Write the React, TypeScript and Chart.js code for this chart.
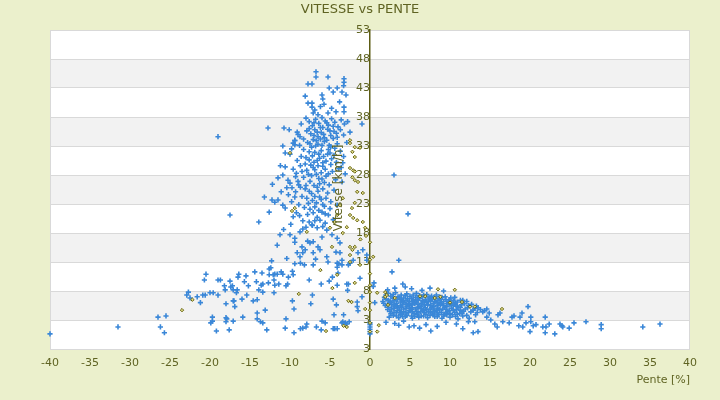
import React, { useEffect, useRef } from 'react';
import { Chart, registerables } from 'chart.js';

Chart.register(...registerables);

// x = pente [%], y = vitesse [km/h]
const xTicks = [-40, -35, -30, -25, -20, -15, -10, -5, 0, 5, 10, 15, 20, 25, 30, 35, 40];
const yTickLabels = ['3', '3', '8', '13', '18', '23', '28', '33', '38', '43', '48', '53'];

// blue "+" series — steep downhill, fast
const blueDownhillFast: number[][] = [
  [-6.75, 45.8], [-6.75, 44.9], [-5.25, 44.9], [-7.75, 43.7], [-7.25, 43.7], [-5.1, 43], [-4.6, 42.3],
  [-3.25, 44.6], [-3.25, 44], [-3.3, 43.4], [-4.1, 43], [-3.5, 42.3], [-3, 41.8], [-8.1, 41.6],
  [-6, 41.8], [-5.9, 41.1], [-5.75, 40.2], [-7.75, 40.4], [-7.25, 40.4], [-7.25, 39.7], [-3.25, 39.7],
  [-3.25, 38.9], [-4.25, 38.9], [-6.9, 39.2], [-7.1, 38.7], [-5.25, 38.7], [-6.2, 39.8], [-6.5, 38.4],
  [-4.8, 39.5], [-3.8, 40.6],
  [-12.75, 36.1], [-10.75, 36.1], [-10.1, 35.8], [-19, 34.6], [-8.6, 36.8], [-1, 36.8], [-9, 35],
  [-8.75, 34.6], [-9.4, 34], [-9.1, 35.4], [-8, 37.8], [-7.6, 37.2], [-7.2, 36.5], [-6.8, 37.6],
  [-6.4, 36.9], [-6, 37.9], [-5.6, 37.3], [-5.2, 36.6], [-4.8, 37.7], [-4.4, 37.1], [-4, 36.3],
  [-3.6, 37.5], [-3.2, 36.8], [-2.8, 37.2], [-7.9, 35.6], [-7.4, 35.1], [-6.9, 35.8], [-6.5, 34.6],
  [-6.1, 35.3], [-5.7, 34.4], [-5.3, 35.9], [-4.9, 34.8], [-4.5, 35.5], [-4.1, 34.5], [-3.7, 35.8],
  [-3.3, 34.9], [-8.3, 34.2], [-7.1, 34.1], [-5.9, 36.2], [-2.5, 35.4],
  [-7, 37], [-6.2, 36.2], [-5.4, 37], [-4.6, 36.4], [-7.6, 36], [-6.6, 35.4], [-5.8, 35],
  [-5, 35.6], [-4.2, 35.2], [-7, 34.8], [-6.2, 34.2], [-5.4, 34], [-4.6, 34.3],
  [-10.6, 31.8], [-10, 31.6], [-9.4, 33.9], [-9.6, 33.5], [-9.4, 33.2], [-8.8, 33.1], [-8.3, 32.4],
  [-7.8, 33.6], [-7.3, 32.8], [-6.9, 31.9], [-6.5, 33.3], [-6.1, 32.2], [-5.7, 33.8], [-5.3, 31.6],
  [-4.9, 32.9], [-4.5, 31.4], [-4.1, 33.4], [-3.7, 32.1], [-3.3, 31.2], [-8.6, 31.2], [-7.6, 30.6],
  [-7, 30.2], [-6.3, 30.9], [-5.5, 30.4], [-4.8, 30.8], [-4.2, 30.2], [-9.1, 30.5], [-8.1, 29.9],
  [-6.7, 33.9], [-5.1, 33.1], [-3.4, 30.1], [-3.6, 29.3], [-2.9, 33.6], [-9.8, 32.5], [-10.9, 33],
  [-7.5, 33.4], [-6.8, 33], [-6, 33.1], [-5.2, 32.4], [-4.4, 32.6], [-7.6, 32], [-6.4, 31.6],
  [-5.8, 31.2], [-5, 31.8], [-7.2, 31.3], [-6.6, 30.5], [-5.9, 30.1], [-8, 31],
  [-10.6, 29.4], [-10.9, 28], [-11.5, 27.5], [-10.25, 27.1], [-10, 26.6], [-9.75, 25.8], [-9.6, 29],
  [-9.2, 28.3], [-8.7, 29.6], [-8.3, 27.6], [-7.9, 28.8], [-7.5, 26.9], [-7.1, 29.3], [-6.7, 28.1],
  [-6.3, 26.5], [-5.9, 29.5], [-5.5, 27.8], [-5.1, 26.3], [-4.7, 28.6], [-4.3, 27.2], [-3.9, 29.1],
  [-3.5, 26.8], [-3.1, 28.2], [-8.9, 26.3], [-7.3, 27.9], [-6, 27.3], [-4.9, 29.8], [-12.2, 26.4],
  [-11.2, 29.6], [3, 28],
  [-7.4, 29.7], [-6.5, 29.6], [-5.6, 29], [-6.9, 28.9], [-6.1, 28.4], [-5.2, 28.2], [-7.7, 28.1],
  [-6.4, 27.4], [-5.7, 26.7], [-7, 26.2], [-9, 26.9], [-9.3, 27.7], [-8.5, 28.6], [-8, 26.2],
];

// blue "+" series — downhill, medium speed
const blueDownhillMid: number[][] = [
  [-12.25, 23.7], [-11.9, 23.3], [-11.5, 23.7], [-10.9, 22.8], [-10.6, 22.3], [-12.6, 21.6],
  [-10.2, 24.6], [-9.8, 23.4], [-9.3, 25.1], [-8.9, 22.9], [-8.5, 24.3], [-8.1, 25.6], [-7.7, 23.1],
  [-7.3, 24.8], [-6.9, 22.5], [-6.5, 25.2], [-6.1, 23.8], [-5.7, 22.6], [-5.3, 24.9], [-4.9, 23.4],
  [-4.5, 25.4], [-4.1, 22.8], [-7.5, 22.1], [-6.3, 24.2], [-5, 22.2], [-8.7, 25.9], [-11.1, 25.1],
  [-13.2, 24.2], [-17.5, 21.1], [-13.9, 19.9], [-9.6, 20.8], [-8.75, 18.2], [-9.9, 19.5], [-9.2, 21.5],
  [-8.4, 20.1], [-7.8, 21.2], [-7.2, 19.3], [-6.6, 20.7], [-6.25, 20.2], [-5.6, 19.7], [-7.25, 19.4],
  [-6.6, 18.9], [-5.4, 18.5], [-4.75, 17.7], [-6, 21.6], [-5.2, 21.1], [-4.6, 20.3], [-8, 19],
  [-10.8, 18.6], [4.75, 21.3],
  [-6.6, 25.9], [-5.9, 25.6], [-7.6, 25.2], [-6.9, 24.3], [-5.5, 24], [-7.9, 24], [-7.2, 23.6],
  [-6.7, 23.2], [-5.9, 22.9], [-8.2, 22.4], [-6.4, 21.9], [-7.1, 21.5], [-5.6, 21.3], [-8.8, 21],
  [-6.9, 20.1], [-7.6, 19.9], [-5.9, 19.1], [-8.4, 18.7], [-9.4, 24.2], [-10.4, 25.8],
  [-11.25, 17.7], [-10, 17.7], [-9.4, 17.1], [-9.4, 16.4], [-7.5, 16.3], [-7.8, 16.6], [-7.1, 16.5],
  [-8.5, 15.6], [-8.1, 15.1], [-8.4, 14.6], [-9.1, 14.6], [-8.75, 13.9], [-7.1, 14.6], [-6.5, 15.6],
  [-6.25, 15.1], [-5.4, 13.9], [-5.25, 13], [-4.25, 14.7], [-3.75, 14.6], [-3.5, 13.3], [-6, 17.3],
  [-4.1, 17.1], [-3.75, 16.3], [-0.9, 15.1], [-0.4, 14.2], [-0.4, 13.3], [-11.6, 15.9], [-12.3, 13.2],
  [-10.4, 13.6], [-2.5, 12.8], [-2.1, 13.3], [-1.5, 14.6], [-6.8, 13.5],
];

// blue "+" series — downhill, slow
const blueDownhillSlow: number[][] = [
  [-40, 0.6], [-31.5, 1.8], [-26.5, 3.5], [-25.5, 3.7], [-26.2, 1.8], [-25.7, 0.8], [-22.7, 7.8],
  [-22.9, 7.3], [-22.5, 6.8], [-21.6, 7], [-21.2, 6], [-20.9, 7.3], [-20.6, 7.3], [-20.5, 10.9],
  [-20.7, 9.9], [-20, 7.7], [-19.6, 7.7], [-19, 9.9], [-18.7, 9.9], [-19, 7.3], [-19.7, 3.5],
  [-19.7, 2.8], [-19.9, 2.5], [-19.2, 1.1], [-18.2, 8.9], [-18.1, 8.2], [-18, 5.8], [-18, 3.4],
  [-17.9, 3.2], [-18, 2.7], [-17.6, 1.3], [-17.4, 8.7], [-17.2, 8.9], [-17.1, 8.2], [-17.5, 9.7],
  [-17.1, 6.3], [-17, 6.3], [-16.9, 5.3], [-17.1, 2.8], [-16.6, 8.2], [-16.7, 7.7], [-16.5, 10.4],
  [-16.4, 10.9], [-16, 6.6], [-15.9, 3.5], [-15.5, 10.6], [-15.7, 9.6], [-15.4, 7.3], [-15.2, 8.9],
  [-14.4, 11.3], [-14.2, 9.6], [-14.6, 6.3], [-14.1, 6.5], [-14.1, 4.2], [-14.1, 3.2], [-13.7, 2.7],
  [-13.5, 11.1], [-13.6, 9], [-13.4, 9.2], [-13.1, 4.7], [-13.4, 2.5], [-12.9, 1.3], [-13.9, 8.2],
  [-13.4, 7.8], [-12.6, 11.8], [-12.4, 12], [-12.6, 10.8], [-12.1, 10.8], [-11.9, 10.9], [-11.6, 10.9],
  [-12, 9.9], [-12.7, 9.4], [-11.9, 9], [-12, 7.7], [-11.4, 9.2], [-11.1, 11.3], [-10.9, 10.9],
  [-10.2, 10.4], [-10.5, 8.9], [-10.3, 9.2], [-9.7, 11.4], [-9.6, 10.8], [-9.7, 6.3], [-9.5, 4.9],
  [-10.5, 3.2], [-10.6, 1.6], [-9.4, 12.7], [-8.7, 12.8], [-8.2, 12.5], [-9.5, 0.8], [-8.7, 1.5],
  [-8.4, 1.6], [-7.9, 2.3], [-8, 1.8], [-7.6, 9.9], [-7.4, 5.8], [-7.1, 12.5], [-7.2, 7.3],
  [-6.7, 1.8], [-6.1, 9.2], [-6, 2.8], [-5.6, 2.5], [-6.1, 1.3], [-5.1, 9.7], [-4.7, 10.4],
  [-4.6, 6.6], [-4.5, 3.9], [-4.6, 1.5], [-4.4, 1.5], [-4.1, 1.5], [-4.1, 12.1], [-4, 11.1],
  [-4.1, 9], [-3.5, 2.5], [-2.9, 2.3], [-2.9, 9.2], [-2.7, 12.5], [-3.5, 12.5], [-3.9, 12.7],
  [-4.1, 12.8], [-2.6, 2.7], [-1.25, 10.2], [-2.7, 9.2], [-1.6, 6.1], [-1, 7], [-1.5, 4.6],
  [-1.6, 5.3], [-3.4, 2.7], [-3.1, 2.5], [-3.3, 3.9], [-4.2, 5.6], [-2.8, 8.1],
];

// blue "+" series — flat and uphill
const blueUphill: number[][] = [
  [0, 0.6], [0, 1], [0, 1.4], [0, 1.8], [0, 2.2], [0, 2.5], [0.6, 6], [0.4, 8.8], [0.5, 9.4],
  [3.6, 13.3], [2.75, 11.3], [4.1, 9.2], [4.4, 8.7], [3.1, 8.5], [2.2, 8.2], [5.2, 8.4], [7.5, 8.5],
  [6.5, 8.1], [9.2, 8],
  [2.3, 7.6], [3.2, 7.7], [4.6, 7.5], [5.8, 7.6], [7.1, 7.4], [8.3, 7.3], [9.4, 7], [10.6, 6.9],
  [2, 7.3], [2.9, 7.4], [3.9, 7.3], [5.4, 7.3], [6.2, 7.2], [7.7, 7.1], [8.7, 7], [10.1, 6.8],
  [1.8, 6.9], [2.6, 7.1], [3.5, 7], [4.2, 6.8], [5, 7.1], [5.7, 6.9], [6.5, 7], [7.3, 6.8], [8, 6.9],
  [8.8, 6.6], [9.9, 6.5], [11.3, 6.4], [12.1, 6.2],
  [2.8, 7], [3.7, 6.8], [4.4, 7.2], [5.2, 6.7], [6, 6.9], [6.7, 7.3], [7.5, 6.9], [8.2, 6.7],
  [9, 6.9], [9.8, 6.2],
  [2, 6.6], [2.9, 6.7], [3.9, 6.6], [4.7, 6.7], [5.4, 6.5], [6.2, 6.7], [6.9, 6.5], [7.7, 6.6],
  [8.5, 6.4], [9.5, 6.5], [10.4, 6.3], [11.6, 6.4],
  [2.5, 6.2], [3.4, 6.5], [4.1, 6.2], [4.9, 6.2], [5.8, 6.3], [6.6, 6.3], [7.3, 6.2], [8.1, 6.2],
  [8.9, 6.1], [9.9, 6], [10.7, 5.9],
  [1.6, 6.2], [2.3, 6.4], [3, 6.3], [3.8, 6.1], [4.5, 6.4], [5.3, 6.2], [6, 6.4], [6.8, 6.1],
  [7.6, 6.3], [8.4, 6], [9.2, 6.2], [10.1, 5.9], [10.9, 6.1], [11.8, 5.8], [12.7, 5.7],
  [1.7, 5.9], [2.6, 6], [3.3, 5.9], [4.2, 6], [4.8, 5.9], [5.6, 6], [6.4, 5.9], [7.1, 6], [7.9, 5.8],
  [8.8, 5.9], [9.6, 5.8], [10.6, 5.7], [11.4, 5.6], [12.3, 5.5], [13.3, 5.4],
  [2.2, 5.7], [3, 5.6], [3.8, 5.5], [4.5, 5.7], [5.2, 5.6], [6, 5.7], [6.8, 5.6], [7.6, 5.5],
  [8.4, 5.5], [9.2, 5.5], [10, 5.6], [10.9, 5.4],
  [1.9, 5.5], [2.7, 5.7], [3.4, 5.4], [4.1, 5.7], [4.9, 5.5], [5.6, 5.8], [6.4, 5.4], [7.2, 5.6],
  [8, 5.3], [8.8, 5.6], [9.6, 5.3], [10.4, 5.5], [11.3, 5.2], [12.2, 5.1], [13.1, 5], [13.8, 4.8],
  [2.3, 5.2], [3.1, 5.3], [3.9, 5.2], [4.6, 5.3], [5.3, 5.1], [6.1, 5.3], [6.9, 5.1], [7.7, 5.2],
  [8.5, 5], [9.3, 5.2], [10.2, 5], [11, 5.1], [11.9, 4.9], [12.9, 4.7], [14.6, 4.9],
  [2.7, 4.9], [3.5, 5.1], [4.2, 4.9], [5, 5], [5.7, 4.9], [6.4, 5], [7.1, 4.8], [7.9, 4.9],
  [8.7, 4.8], [9.5, 4.8], [10.4, 4.7], [11.3, 4.7],
  [2.2, 4.8], [3, 5], [3.7, 4.7], [4.5, 5], [5.2, 4.8], [6, 5.1], [6.7, 4.7], [7.5, 4.9], [8.3, 4.6],
  [9.1, 4.9], [9.9, 4.6], [10.8, 4.8], [11.7, 4.5], [12.6, 4.4], [14.3, 4.6],
  [2.5, 4.5], [3.4, 4.6], [4.2, 4.4], [4.9, 4.6], [5.8, 4.5], [6.6, 4.6], [7.3, 4.4], [8.1, 4.5],
  [8.9, 4.3], [9.7, 4.5], [10.6, 4.3], [11.5, 4.2], [13.4, 4.3], [14.9, 4.2],
  [3, 4.3], [3.8, 4.2], [4.5, 4.2], [5.3, 4.4], [6, 4.2], [6.8, 4.3], [7.6, 4.4], [8.4, 4.2],
  [9.3, 4], [10, 4.1], [10.9, 4],
  [2.6, 4.1], [3.3, 4.3], [4, 4], [4.8, 4.3], [5.5, 4.1], [6.3, 4.4], [7, 4], [7.8, 4.2], [8.6, 3.9],
  [9.5, 4.2], [10.3, 3.9], [11.2, 4.1], [12.1, 3.8], [13.2, 3.9],
  [2.9, 3.8], [3.8, 3.9], [4.6, 3.8], [5.2, 3.7], [5.9, 3.9], [6.7, 3.7], [7.5, 3.8], [8.4, 3.6],
  [9.2, 3.7], [10.7, 3.6], [11.6, 3.7], [3.3, 3.7], [4.1, 3.6], [5.6, 3.6], [6.4, 3.7], [7.9, 3.9],
  [9.6, 3.9],
  [2.4, 3.5], [3.6, 3.4], [4.4, 3.6], [5.3, 3.3], [6.1, 3.5], [7.2, 3.4], [8.1, 3.6], [9, 3.3],
  [10, 3.5], [11, 3.2], [12.4, 3.3],
  [2, 2.6], [3.1, 2.4], [4.2, 2.8], [5.5, 2], [6.2, 1.6], [7, 2.2], [8.4, 1.9], [9.5, 2.6],
  [10.8, 2.3], [11.6, 1.5], [12.3, 2.7], [4.9, 1.8], [7.6, 1.1], [3.6, 2.1],
  [13.5, 5.1], [14.1, 4.4], [13.1, 2.7], [13.5, 1], [12.9, 0.8], [14.6, 3.5], [15.1, 3], [15.6, 2.3],
  [15.9, 1.8], [16, 3.9], [16.25, 4.2], [16.6, 2.7], [17.4, 2.5], [17.75, 3.5], [18, 3.7],
  [18.75, 3.5], [19, 4.2], [18.6, 2], [19.1, 1.8], [19.5, 2.5], [19.75, 5.3], [20.1, 3.5],
  [20.1, 2.7], [20, 1], [20.4, 2], [20.75, 2.2], [21.9, 3.5], [21.6, 1.8], [22, 1.8], [21.9, 0.8],
  [22.4, 2.3], [23.1, 0.6], [23.75, 2.3], [24, 2], [24.1, 1.8], [24.9, 1.6], [25.5, 2.5], [27, 2.7],
  [28.9, 2.2], [28.9, 1.5], [34.1, 1.8], [36.25, 2.3], [43.4, 0.2],
];

// olive diamond series
const oliveDownhill: number[][] = [
  [-23.5, 4.7], [-22.2, 6.5], [-8.9, 7.5], [-6.2, 11.6], [-5.5, 1.1], [-4.7, 8.5], [-3.3, 2],
  [-2.7, 6.3], [-2.9, 1.8], [-1.9, 9.4], [-2.3, 6.1], [-0.6, 4.9], [-4.1, 10.8], [-1.25, 12.5],
  [-2.5, 34], [-2.5, 33.5], [-1.9, 32.8], [-1.25, 32.7], [-2.2, 32], [-1.9, 31.1], [-2.5, 29.2],
  [-2.1, 28.8], [-1.9, 28.6], [-1.9, 27.1], [-1.5, 26.8], [-2.2, 27.6], [-10, 31.8], [-1.6, 25.1],
  [-0.9, 24.9], [-1.9, 23.2], [-2.25, 22.3], [-2.5, 21.1], [-2.1, 20.6], [-1.6, 20.2], [-0.9, 19.9],
  [-0.6, 18.9], [-2.9, 19], [-3.4, 18], [-3.75, 22.8], [-3.4, 24], [-4.1, 21.1], [-4.4, 19.9],
  [-5, 18.9], [-9.75, 21.8], [-9.4, 22.3], [-7.9, 18.2], [-4.75, 15.6], [-2.5, 15.6], [-2.2, 15.1],
  [-1.9, 15.6], [-2.5, 14.2], [-2.5, 13], [-0.5, 17.5], [-1.2, 16.9],
];
const oliveFlat: number[][] = [
  [0, 16.4], [0, 13.4], [0, 11], [0, 9], [0, 7.8], [0, 6], [0, 4.7], [0, 2.5], [0, 1], [0.4, 13.9],
];
const oliveUphill: number[][] = [
  [0.9, 1], [1.1, 2.1], [1.9, 7.8], [2.1, 7.3], [0.9, 7.7], [1.9, 7], [2.25, 5.6], [3.1, 6.8],
  [6.25, 7.1], [6.9, 7.1], [8.5, 8.3], [10.6, 8.2], [8.1, 6.8], [10, 6], [11.5, 6.1], [12.5, 5.3],
  [13.1, 5.3], [16.5, 4.9], [8.8, 7],
];

const toPoints = (rows: number[][]) => rows.map(([x, y]) => ({ x, y }));

const OLIVE_TEXT = '#5f6322';
const BANDS = '#f2f2f2';
const GRID = '#d9d9d9';

const decorPlugin = {
  id: 'decor',
  beforeDraw(chart: any) {
    const { ctx, chartArea: a, scales } = chart;
    const y = scales.y;
    ctx.save();
    ctx.fillStyle = '#ffffff';
    ctx.fillRect(a.left, a.top, a.right - a.left, a.bottom - a.top);
    ctx.fillStyle = BANDS;
    for (let v = 3; v < 53; v += 10) {
      const top = y.getPixelForValue(v + 5);
      const bot = y.getPixelForValue(v);
      ctx.fillRect(a.left, top, a.right - a.left, bot - top);
    }
    ctx.strokeStyle = GRID;
    ctx.lineWidth = 1;
    ctx.strokeRect(a.left + 0.5, a.top + 0.5, a.right - a.left - 1, a.bottom - a.top);
    ctx.restore();
  },
  afterDraw(chart: any) {
    const { ctx } = chart;
    ctx.save();
    ctx.fillStyle = OLIVE_TEXT;
    ctx.textAlign = 'center';
    ctx.textBaseline = 'middle';
    ctx.font = '13px "DejaVu Sans"';
    ctx.fillText('VITESSE vs PENTE', 360, 10);
    ctx.translate(339, 188);
    ctx.rotate(-Math.PI / 2);
    ctx.font = '12px "DejaVu Sans"';
    ctx.fillText('Vitesse [km/h]', 0, 0);
    ctx.restore();
  },
};

function ScatterChart() {
  const canvasRef = useRef<HTMLCanvasElement>(null);

  useEffect(() => {
    if (!canvasRef.current) return;
    Chart.defaults.font.family = '"DejaVu Sans"';
    const chart = new Chart(canvasRef.current, {
      type: 'scatter',
      data: {
        datasets: [
          {
            label: 'olive',
            data: toPoints([...oliveDownhill, ...oliveFlat, ...oliveUphill]),
            pointStyle: 'rectRot',
            pointRadius: 1.7,
            borderWidth: 1,
            borderColor: '#66640f',
            backgroundColor: '#e2dc8a',
          },
          {
            label: 'blue',
            data: toPoints([...blueDownhillFast, ...blueDownhillMid, ...blueDownhillSlow, ...blueUphill]),
            pointStyle: 'cross',
            pointRadius: 2.6,
            borderWidth: 1.6,
            borderColor: '#3a87d8',
            backgroundColor: '#3a87d8',
            clip: false,
          },
        ],
      },
      options: {
        animation: false,
        responsive: true,
        maintainAspectRatio: false,
        events: [],
        layout: { padding: { left: 50, right: 30, top: 30, bottom: 0 } },
        plugins: { legend: { display: false }, tooltip: { enabled: false } },
        scales: {
          x: {
            type: 'linear',
            min: -40,
            max: 40,
            afterBuildTicks: (s: any) => {
              s.ticks = xTicks.map((value) => ({ value }));
            },
            afterFit: (s: any) => {
              s.height = 51;
            },
            grid: { display: false, drawTicks: false },
            border: { display: false },
            ticks: { color: OLIVE_TEXT, font: { size: 11 }, padding: 8, maxRotation: 0 },
            title: {
              display: true,
              text: 'Pente [%]',
              align: 'end',
              color: OLIVE_TEXT,
              font: { size: 11 },
              padding: { top: 0, bottom: 13 },
            },
          },
          y: {
            type: 'linear',
            min: -2,
            max: 53,
            position: { x: 0 },
            ticks: {
              stepSize: 5,
              color: OLIVE_TEXT,
              font: { size: 11 },
              padding: 7,
              callback: (_v: any, i: number) => yTickLabels[i],
            },
            grid: { color: GRID, drawTicks: false },
            border: { color: '#5c5c14', width: 1.5 },
          },
        },
      },
      plugins: [decorPlugin],
    });
    return () => chart.destroy();
  }, []);

  return (
    <div
      style={{
        position: 'fixed',
        left: 0,
        top: 0,
        width: 720,
        height: 400,
        background: '#ebf0cc',
      }}
    >
      <canvas ref={canvasRef} />
    </div>
  );
}

export default function App() {
  return <ScatterChart />;
}
